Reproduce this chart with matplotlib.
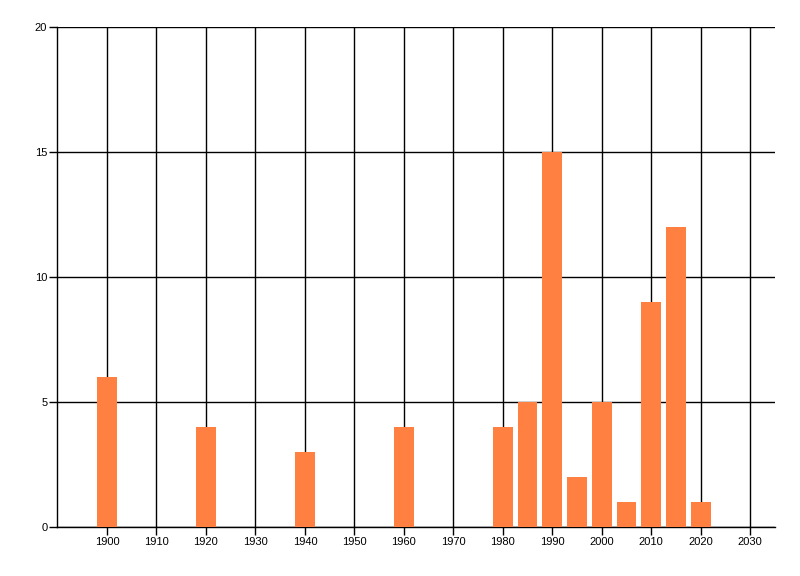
import matplotlib
matplotlib.use("Agg")
import matplotlib.pyplot as plt

years = [1900, 1920, 1940, 1960, 1980, 1985, 1990, 1995, 2000, 2005, 2010, 2015, 2020]
counts = [6, 4, 3, 4, 4, 5, 15, 2, 5, 1, 9, 12, 1]
x_ticks = list(range(1900, 2031, 10))
y_ticks = [0, 5, 10, 15, 20]

fig = plt.figure(figsize=(8.0, 5.76), dpi=100)
ax = fig.add_axes([57/800, 1 - 527/576, (775 - 57)/800, (527 - 27)/576])

ax.bar(years, counts, width=4, color='#FF8040', zorder=3)
ax.set_xlim(1889.9, 2035)
ax.set_ylim(0, 20)
ax.set_xticks(x_ticks)
ax.set_yticks(y_ticks)
ax.grid(True, color='black', linewidth=1, zorder=1)
for s in ['top', 'right']:
    ax.spines[s].set_visible(False)
for s in ['left', 'bottom']:
    ax.spines[s].set_linewidth(1)
    ax.spines[s].set_color('black')
ax.tick_params(axis='both', length=6, width=1, pad=1, labelsize=8, colors='black')
for lbl in ax.get_xticklabels() + ax.get_yticklabels():
    lbl.set_family('Liberation Sans')

fig.savefig('out.png', dpi=100)
